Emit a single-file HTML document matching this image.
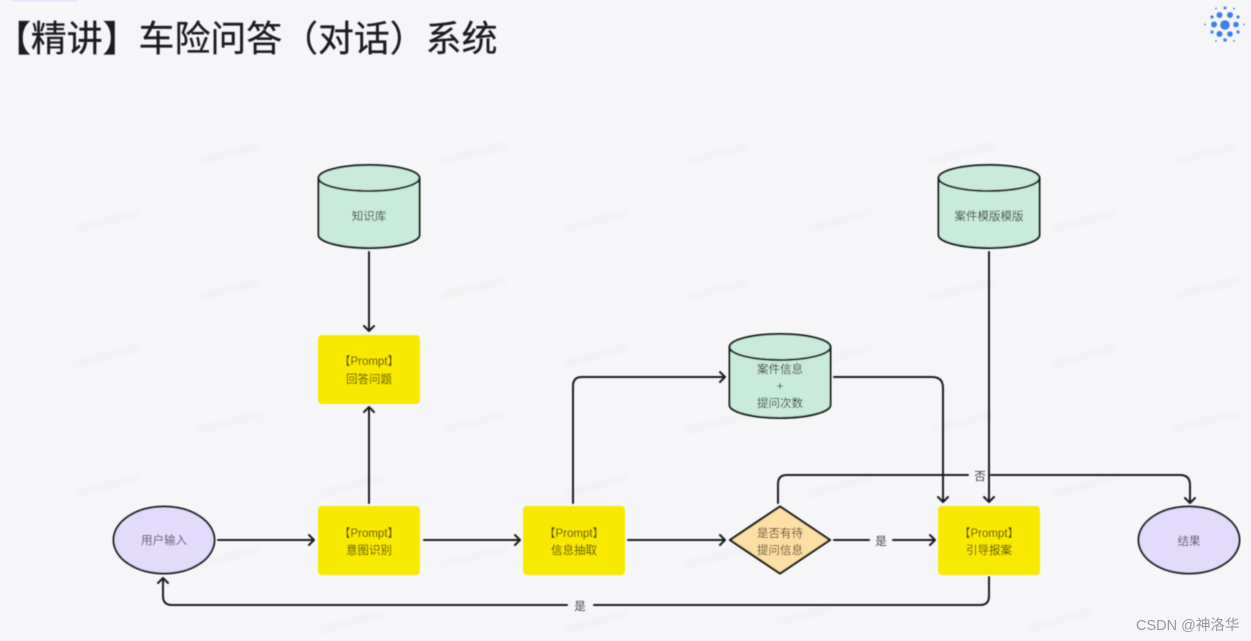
<!DOCTYPE html>
<html lang="zh">
<head>
<meta charset="utf-8">
<title>车险问答（对话）系统</title>
<style>
html,body{margin:0;padding:0;width:1251px;height:641px;overflow:hidden;background:#f6f6f9}
svg{display:block;position:absolute;left:0;top:0}
text{font-family:"Liberation Sans","Noto Sans CJK SC",sans-serif}
</style>
</head>
<body>
<svg width="1251" height="641" viewBox="0 0 1251 641" xmlns="http://www.w3.org/2000/svg">
<defs>
<filter id="b" x="-5%" y="-5%" width="110%" height="110%"><feGaussianBlur stdDeviation="0.5"/></filter>
<filter id="w" x="-20%" y="-50%" width="140%" height="200%"><feGaussianBlur stdDeviation="3"/></filter>
</defs>
<rect width="1251" height="641" fill="#f6f6f9"/>
<rect x="12" y="0" width="66" height="1.5" fill="#e6e6fb"/>

<g stroke="#f1f1f3" stroke-width="6" fill="none" filter="url(#w)" stroke-linecap="round">
<path d="M76 229L136 213M200 161L258 146M444 160L504 146M688 161L748 146M932 161L992 146M1176 161L1236 146"/>
<path d="M322 229L380 213M566 229L624 213M810 229L868 213M1054 229L1114 213"/>
<path d="M200 297L258 282M444 295L504 281M688 297L748 282M932 297L992 282M1176 295L1236 281"/>
<path d="M76 364L136 348M322 364L380 348M566 364L624 348M810 364L868 348M1054 364L1114 348"/>
<path d="M200 430L258 415M444 430L504 415M688 430L748 415M932 430L992 415M1176 428L1236 414"/>
<path d="M76 494L136 478M322 494L380 478M566 494L624 478M810 494L868 478M1054 494L1114 478"/>
<path d="M200 564L258 549M444 564L504 549M688 564L748 549M932 564L992 549M1176 564L1236 549"/>
<path d="M322 630L380 614M566 630L624 614M780 622L830 608M1030 628L1090 612"/>
</g>

<g filter="url(#b)">
<text x="-5" y="51" font-size="35.9" fill="#1e1e20" stroke="#1e1e20" stroke-width="0.3">【精讲】车险问答（对话）系统</text>

<g fill="#3b82ee">
<circle cx="1225" cy="25" r="4.8"/>
<circle cx="1219.500" cy="15" r="3"/><circle cx="1230" cy="15" r="3"/>
<circle cx="1214" cy="24.500" r="3"/><circle cx="1236" cy="24.500" r="2.800"/>
<circle cx="1219.500" cy="34" r="3"/><circle cx="1230" cy="34" r="2.800"/>
<circle cx="1212" cy="17" r="1.600"/><circle cx="1238" cy="17" r="1.600"/>
<circle cx="1212" cy="32" r="1.600"/><circle cx="1238" cy="32" r="1.600"/>
<circle cx="1225" cy="8" r="1.500"/><circle cx="1225" cy="40" r="1.800"/>
<circle cx="1216" cy="8.500" r="0.900"/><circle cx="1234" cy="8.500" r="0.900"/>
<circle cx="1216" cy="41" r="0.900"/><circle cx="1234" cy="41" r="0.900"/>
<circle cx="1205" cy="24.500" r="0.900"/><circle cx="1244" cy="24.500" r="0.900"/>
</g>

<!-- connectors -->
<g fill="none" stroke="#1f1f23" stroke-width="2" stroke-linecap="round" stroke-linejoin="round">
<path d="M369 252V331M364 326L369 331L374 326"/>
<path d="M369 503V407M364 412L369 407L374 412"/>
<path d="M218 540H314M309 535L314 540L309 545"/>
<path d="M424 540H520M515 535L520 540L515 545"/>
<path d="M628 540H725M720 535L725 540L720 545"/>
<path d="M573 503V386Q573 377 582 377H725M720 372L725 377L720 382"/>
<path d="M834 377H932Q943 377 943 388V502M938 497L943 502L948 497"/>
<path d="M989 252V502M984 497L989 502L994 497"/>
<path d="M778 503V484Q778 475 787 475H968M991 475H1180Q1190 475 1190 485V503M1185 498L1190 503L1195 498"/>
<path d="M834 540H869M893 540H935M930 535L935 540L930 545"/>
<path d="M989 577V596Q989 605 980 605H594M567 605H172Q163 605 163 596V578M158 583L163 578L168 583"/>
</g>

<!-- cylinders -->
<g stroke="#16201d" stroke-width="2" fill="#c9ebdc">
<path d="M318.500 178V235C318.500 242 341 248 369 248S419.500 242 419.500 235V178Z"/>
<ellipse cx="369" cy="178" rx="50.500" ry="13"/>
<path d="M938.500 178V235C938.500 242 961 248 989 248S1039.500 242 1039.500 235V178Z"/>
<ellipse cx="989" cy="178" rx="50.500" ry="13"/>
<path d="M729.500 347V405C729.500 412 752 418 780 418S830.500 412 830.500 405V347Z"/>
<ellipse cx="780" cy="347" rx="50.500" ry="13"/>
</g>

<!-- yellow boxes -->
<g fill="#f8e900">
<rect x="318" y="335" width="102" height="69" rx="4"/>
<rect x="318" y="506" width="102" height="69" rx="4"/>
<rect x="523" y="506" width="102" height="69" rx="4"/>
<rect x="938" y="506" width="102" height="69" rx="4"/>
</g>

<!-- ellipses -->
<g fill="#e3dbfb" stroke="#1b1b28" stroke-width="2">
<ellipse cx="164" cy="540" rx="50.500" ry="33.500"/>
<ellipse cx="1189" cy="540" rx="50.500" ry="33.500"/>
</g>

<!-- diamond -->
<path d="M780 506.500L830 540L780 573.500L730 540Z" fill="#fbdfa4" stroke="#1c1a12" stroke-width="2.200" stroke-linejoin="round"/>

<!-- labels -->
<g font-size="11.500" text-anchor="middle" fill="#333d3a">
<text x="369" y="220">知识库</text>
<text x="989" y="220">案件模版模版</text>
<text x="780" y="373">案件信息</text>
<text x="780" y="390">+</text>
<text x="780" y="407">提问次数</text>
</g>
<g font-size="11.500" text-anchor="middle" fill="#4a4400">
<text x="369" y="365">【Prompt】</text>
<text x="369" y="383">回答问题</text>
<text x="369" y="537">【Prompt】</text>
<text x="369" y="554">意图识别</text>
<text x="574" y="537">【Prompt】</text>
<text x="574" y="554">信息抽取</text>
<text x="989" y="537">【Prompt】</text>
<text x="989" y="554">引导报案</text>
</g>
<g font-size="11.500" text-anchor="middle" fill="#5a4a28">
<text x="780" y="537">是否有待</text>
<text x="780" y="554">提问信息</text>
</g>
<g font-size="11.500" text-anchor="middle" fill="#4f4a62">
<text x="164" y="544">用户输入</text>
<text x="1189" y="545">结果</text>
</g>
<g font-size="11.500" text-anchor="middle" fill="#444448">
<text x="980" y="480">否</text>
<text x="881" y="545">是</text>
<text x="580" y="610">是</text>
</g>
</g>
<text x="1136" y="630" font-size="14.500" fill="#9a9a9e">CSDN @神洛华</text>
</svg>
</body>
</html>
